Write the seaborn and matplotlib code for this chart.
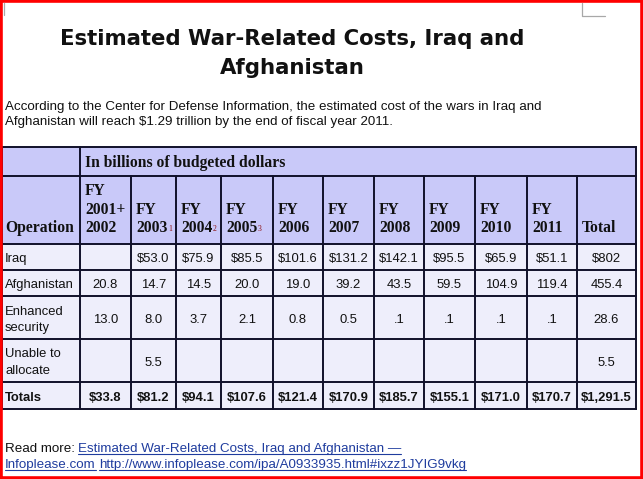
import matplotlib
matplotlib.use("Agg")
import matplotlib.pyplot as plt
import seaborn as sns
from matplotlib.patches import Rectangle

# table content
operations = ["Iraq", "Afghanistan", "Enhanced\nsecurity", "Unable to\nallocate", "Totals"]
year_labels = ["FY\n2001+\n2002", "FY\n2003", "FY\n2004", "FY\n2005", "FY\n2006", "FY\n2007",
               "FY\n2008", "FY\n2009", "FY\n2010", "FY\n2011", "Total"]
footnotes = ["", "1", "2", "3", "", "", "", "", "", "", ""]
iraq = ["", "$53.0", "$75.9", "$85.5", "$101.6", "$131.2", "$142.1", "$95.5", "$65.9", "$51.1", "$802"]
afghanistan = ["20.8", "14.7", "14.5", "20.0", "19.0", "39.2", "43.5", "59.5", "104.9", "119.4", "455.4"]
enhanced = ["13.0", "8.0", "3.7", "2.1", "0.8", "0.5", ".1", ".1", ".1", ".1", "28.6"]
unable = ["", "5.5", "", "", "", "", "", "", "", "", "5.5"]
totals = ["$33.8", "$81.2", "$94.1", "$107.6", "$121.4", "$170.9", "$185.7", "$155.1",
          "$171.0", "$170.7", "$1,291.5"]
rows = [iraq, afghanistan, enhanced, unable, totals]

title = "Estimated War-Related Costs, Iraq and\nAfghanistan"
intro = ("According to the Center for Defense Information, the estimated cost of the wars in Iraq and\n"
         "Afghanistan will reach $1.29 trillion by the end of fiscal year 2011.")
unit_label = "In billions of budgeted dollars"

# layout (pixels)
col_edges = [2, 80, 131, 176, 221, 273, 323, 374, 424, 475, 527, 577, 636]
row_edges = [147, 176, 244, 270, 296, 339, 382, 409]
head_fill = "#c9c9f9"
body_fill = "#eeeefb"
line_col = "#10102a"

sns.set_style("white")
plt.rcParams["font.family"] = ["Liberation Sans", "DejaVu Sans"]

fig = plt.figure(figsize=(6.43, 4.79), dpi=100)
ax = fig.add_axes([0, 0, 1, 1])
ax.set_xlim(0, 643)
ax.set_ylim(479, 0)
ax.axis("off")

px = 0.72  # points per pixel at 100 dpi

# title and intro
for k, line in enumerate(title.split("\n")):
    ax.text(292, 44.5 + 29 * k, line, ha="center", va="baseline", fontsize=21.3 * px,
            fontweight="bold", family="DejaVu Sans", color="#111111")
for k, line in enumerate(intro.split("\n")):
    ax.text(5, 109.5 + 15.8 * k, line, ha="left", va="baseline", fontsize=13.4 * px, color="#111111")

# cell backgrounds
for r in range(len(row_edges) - 1):
    y0, y1 = row_edges[r], row_edges[r + 1]
    for c in range(len(col_edges) - 1):
        x0, x1 = col_edges[c], col_edges[c + 1]
        fill = head_fill if r < 2 else body_fill
        ax.add_patch(Rectangle((x0, y0), x1 - x0, y1 - y0, facecolor=fill, edgecolor="none"))

# grid lines
lw = 1.4
for y in row_edges:
    ax.plot([col_edges[0], col_edges[-1]], [y, y], color=line_col, lw=lw, solid_capstyle="projecting")
for i, x in enumerate(col_edges):
    if 1 < i < len(col_edges) - 1:
        ax.plot([x, x], [row_edges[1], row_edges[-1]], color=line_col, lw=lw)
    else:
        ax.plot([x, x], [row_edges[0], row_edges[-1]], color=line_col, lw=lw)

serif = ["Liberation Serif", "DejaVu Serif"]
head_size = 15.6 * px
body_size = 13.0 * px

ax.text(col_edges[1] + 5, 167, unit_label, ha="left", va="baseline", fontsize=head_size,
        fontweight="bold", family=serif, color="#111111")
ax.text(col_edges[0] + 3, 232, "Operation", ha="left", va="baseline", fontsize=head_size,
        fontweight="bold", family=serif, color="#111111")

for c, (label, note) in enumerate(zip(year_labels, footnotes)):
    lines = label.split("\n")
    x = col_edges[c + 1] + 5
    last = None
    for k, line in enumerate(reversed(lines)):
        t = ax.text(x, 232 - 18.5 * k, line, ha="left", va="baseline", fontsize=head_size,
                    fontweight="bold", family=serif, color="#111111")
        if k == 0:
            last = t
    if note:
        ax.annotate(note, xy=(1, 0.2), xycoords=last, xytext=(0.4, 0), textcoords="offset points",
                    ha="left", va="bottom", fontsize=5.5, color="#8c0c0c", family=serif)

# body rows
baselines = [262, 288, 323, 366, 401]
label_lines = [[262], [288], [315, 331.5], [357, 374], [401]]
for r, (name, vals) in enumerate(zip(operations, rows)):
    bold = name == "Totals"
    for k, line in enumerate(name.split("\n")):
        ax.text(col_edges[0] + 3, label_lines[r][k], line, ha="left", va="baseline",
                fontsize=body_size, fontweight="bold" if bold else "normal", color="#111111")
    for c, v in enumerate(vals):
        if not v:
            continue
        xc = (col_edges[c + 1] + col_edges[c + 2]) / 2
        ax.text(xc, baselines[r], v, ha="center", va="baseline", fontsize=body_size,
                fontweight="bold" if bold else "normal", color="#111111")

# footer with links
link_col = "#1f3c9e"
fsize = 13.4 * px
ax.text(5, 452, "Read more: ", ha="left", va="baseline", fontsize=fsize, color="#111111")
links = [
    ax.text(78, 452, "Estimated War-Related Costs, Iraq and Afghanistan \u2014", ha="left",
            va="baseline", fontsize=fsize, color=link_col),
    ax.text(5, 468, "Infoplease.com", ha="left", va="baseline", fontsize=fsize, color=link_col),
    ax.text(99, 468, "http://www.infoplease.com/ipa/A0933935.html#ixzz1JYIG9vkg", ha="left",
            va="baseline", fontsize=fsize, color=link_col),
]
fig.canvas.draw()
renderer = fig.canvas.get_renderer()
inv = ax.transData.inverted()
for t in links:
    bb = t.get_window_extent(renderer)
    (xa, _), (xb, _) = inv.transform([(bb.x0, bb.y0), (bb.x1, bb.y1)])
    yb = t.get_position()[1] + 2
    ax.plot([xa, xb], [yb, yb], color=link_col, lw=0.8)

# page frame and corner marks
frame = "#ff0000"
ax.plot([1, 1, 641.5, 641.5, 1], [477.5, 1, 1, 477.5, 477.5], color=frame, lw=2.6, clip_on=False)
ax.plot([3.5, 3.5], [3, 15], color="#a8a8a8", lw=0.9)
ax.plot([581.5, 581.5, 605], [3, 16, 16], color="#a8a8a8", lw=0.9)

fig.savefig("out.png", dpi=100, facecolor="white")
